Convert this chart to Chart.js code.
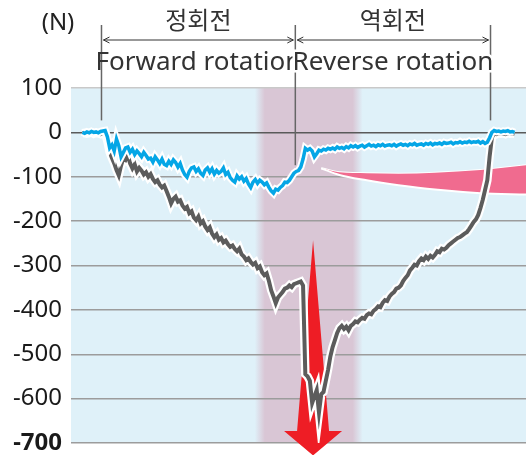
<!DOCTYPE html>
<html>
<head>
<meta charset="utf-8">
<script src="https://cdn.jsdelivr.net/npm/chart.js@4.4.1/dist/chart.umd.min.js"></script>
<style>
  html, body { margin: 0; padding: 0; background: #fff; }
  #wrap { width: 526px; height: 455px; position: relative; }
</style>
</head>
<body>
<div id="wrap"><canvas id="forceChart"></canvas></div>
<script>
// =========================
// Données
// =========================

// sample grid (s), one value every 0.5
const sampleStart = 2.5;
const sampleStep = 0.5;

// force, blue trace (N)
const blueForce = [
  0, -2, 1, -1, 2, 0, 1, -1, 2, 3,
  4, -10, -35, -28, -42, -15, -30, -55, -45, -35,
  -33, -45, -38, -50, -42, -48, -55, -45, -52, -60,
  -58, -67, -55, -62, -70, -60, -72, -75, -65, -72,
  -62, -68, -78, -70, -85, -95, -101, -88, -80, -78,
  -88, -82, -92, -97, -85, -80, -90, -82, -94, -86,
  -92, -88, -80, -95, -90, -102, -108, -112, -98, -105,
  -100, -110, -104, -116, -124, -112, -106, -115, -108, -112,
  -118, -114, -124, -132, -137, -128, -130, -124, -120, -112,
  -113, -108, -100, -92, -88, -86, -78, -60, -36, -40,
  -37, -42, -55, -48, -40, -42, -38, -40, -36, -38,
  -35, -38, -33, -36, -34, -37, -32, -35, -30, -33,
  -30, -34, -31, -29, -33, -30, -27, -31, -29, -32,
  -28, -30, -27, -31, -29, -28, -30, -27, -31, -28,
  -26, -29, -27, -30, -26, -28, -25, -29, -27, -26,
  -29, -25, -27, -24, -28, -25, -26, -24, -27, -23,
  -25, -24, -22, -26, -23, -24, -21, -24, -22, -23,
  -20, -23, -21, -22, -20, -24, -21, -25, -22, -12,
  0, 4, 2, 3, 1, 3, 2, 4, 1, 2,
  0
];

// force, grey trace (N)
const greyForce = [
  -2, -1, -3, -2, 0, -3, -1, -2, -4, -1,
  -2, -20, -45, -58, -70, -85, -97, -75, -58, -62,
  -52, -70, -81, -72, -88, -80, -86, -95, -90, -100,
  -94, -105, -112, -108, -118, -124, -120, -132, -145, -160,
  -150, -145, -156, -153, -165, -172, -168, -182, -178, -192,
  -198, -190, -205, -200, -212, -220, -214, -228, -236, -230,
  -242, -238, -248, -244, -252, -258, -255, -263, -268, -262,
  -275, -280, -288, -284, -292, -298, -294, -306, -302, -315,
  -322, -318, -335, -356, -370, -385, -372, -366, -360, -352,
  -350, -345, -349, -342, -340, -338, -336, -345, -545, -550,
  -560, -610, -595, -581, -631, -590, -585, -560, -535, -505,
  -484, -468, -452, -441, -436, -443, -438, -446, -436, -432,
  -426, -428, -422, -418, -420, -412, -408, -410, -402, -398,
  -392, -394, -384, -378, -380, -370, -364, -360, -352, -350,
  -345, -335, -328, -322, -311, -305, -298, -300, -290, -284,
  -288, -280, -285, -278, -282, -276, -268, -270, -262, -264,
  -260, -254, -250, -246, -242, -238, -236, -232, -228, -225,
  -218, -210, -202, -196, -186, -170, -152, -130, -108, -55,
  -12, -2, -4, -1, -3, -2, -4, -1, -3, -2,
  -3
];

// pink wedge (reduction)
const wedgeTimes = [55, 59, 65, 72, 80, 90, 100];
const wedgeTop = [-81, -90, -92, -93, -91, -85, -74];
const wedgeBottom = [-81, -96, -108, -119, -129, -137, -140];

// y ticks
const yTicks = [100, 0, -100, -200, -300, -400, -500, -600, -700];

// shaded zone and red arrow
const zoneStart = 41.5;
const zoneEnd = 63;
const arrowTime = 53.2;
const arrowTip = -243;
const arrowBase = -673;
const arrowPoint = -728;

// phase markers
const phaseMarks = [6.7, 49.3, 92.2];
const phaseMarkEnds = [27, -74, 27];
const phaseNames = ['정회전', '역회전'];
const phaseNamesEn = ['Forward rotation', 'Reverse rotation'];

const toPoints = (values) => values.map((v, i) => ({ x: sampleStart + i * sampleStep, y: v }));
const wedgePoints = (values) => values.map((v, i) => ({ x: wedgeTimes[i], y: v }));

// =========================
// Plugins
// =========================

const backdrop = {
  id: 'backdrop',
  beforeDraw(chart) {
    const { ctx, chartArea: a, scales: { x } } = chart;
    ctx.save();
    ctx.fillStyle = '#dff1f9';
    ctx.fillRect(a.left, a.top, a.right - a.left, a.bottom - a.top);

    const x0 = x.getPixelForValue(zoneStart);
    const x1 = x.getPixelForValue(zoneEnd);
    const g = ctx.createLinearGradient(x0 - 5, 0, x1 + 5, 0);
    const w = (x1 - x0) + 10;
    g.addColorStop(0, 'rgba(217,198,213,0)');
    g.addColorStop(10 / w, 'rgba(217,198,213,1)');
    g.addColorStop(1 - 10 / w, 'rgba(217,198,213,1)');
    g.addColorStop(1, 'rgba(217,198,213,0)');
    ctx.fillStyle = g;
    ctx.fillRect(x0 - 5, a.top, w, a.bottom - a.top);
    ctx.restore();
  }
};

const redArrow = {
  id: 'redArrow',
  beforeDatasetsDraw(chart) {
    const { ctx, scales: { x, y } } = chart;
    const cx = x.getPixelForValue(arrowTime);
    const yTip = y.getPixelForValue(arrowTip);
    const yBase = y.getPixelForValue(arrowBase);
    const yPoint = y.getPixelForValue(arrowPoint);
    ctx.save();
    ctx.fillStyle = '#ee1d25';
    ctx.beginPath();
    ctx.moveTo(cx, yTip);
    ctx.lineTo(cx + 16, yBase);
    ctx.lineTo(cx + 29, yBase);
    ctx.lineTo(cx, yPoint);
    ctx.lineTo(cx - 29, yBase);
    ctx.lineTo(cx - 16, yBase);
    ctx.closePath();
    ctx.fill();
    ctx.restore();
  }
};

const phaseLabels = {
  id: 'phaseLabels',
  afterDraw(chart) {
    const { ctx, scales: { x, y } } = chart;
    const topY = 25;
    const arrowY = 40;
    ctx.save();

    // unit
    ctx.fillStyle = '#222';
    ctx.font = '24px "Noto Sans"';
    ctx.textAlign = 'center';
    ctx.textBaseline = 'middle';
    ctx.fillText('(N)', 58, 23);

    // markers
    ctx.strokeStyle = '#666';
    ctx.lineWidth = 1.5;
    const xs = phaseMarks.map(t => x.getPixelForValue(t));
    xs.forEach((px, i) => {
      ctx.beginPath();
      ctx.moveTo(px, topY);
      ctx.lineTo(px, y.getPixelForValue(phaseMarkEnds[i]));
      ctx.stroke();
    });

    // double arrows
    ctx.strokeStyle = '#333';
    ctx.lineWidth = 1;
    for (let i = 0; i < xs.length - 1; i++) {
      const a = xs[i] + 2;
      const b = xs[i + 1] - 2;
      ctx.beginPath();
      ctx.moveTo(a, arrowY);
      ctx.lineTo(b, arrowY);
      ctx.moveTo(a + 6, arrowY - 3);
      ctx.lineTo(a, arrowY);
      ctx.lineTo(a + 6, arrowY + 3);
      ctx.moveTo(b - 6, arrowY - 3);
      ctx.lineTo(b, arrowY);
      ctx.lineTo(b - 6, arrowY + 3);
      ctx.stroke();
    }

    // names
    ctx.fillStyle = '#333';
    ctx.font = '24px "Noto Sans CJK KR"';
    ctx.textBaseline = 'middle';
    for (let i = 0; i < phaseNames.length; i++) {
      ctx.fillText(phaseNames[i], (xs[i] + xs[i + 1]) / 2, 20);
    }
    ctx.font = '26px "Noto Sans"';
    ctx.textBaseline = 'alphabetic';
    for (let i = 0; i < phaseNamesEn.length; i++) {
      const cx = (xs[i] + xs[i + 1]) / 2;
      if (i > 0) {
        ctx.strokeStyle = '#fff';
        ctx.lineWidth = 5;
        ctx.strokeText(phaseNamesEn[i], cx, 70);
      }
      ctx.fillText(phaseNamesEn[i], cx, 70);
    }
    ctx.restore();
  }
};

// =========================
// Graphique
// =========================

const ctx = document.getElementById('forceChart');

new Chart(ctx, {
  type: 'line',
  data: {
    datasets: [
      {
        label: 'blue',
        data: toPoints(blueForce),
        borderColor: '#05a6e6',
        borderWidth: 3.5,
        order: 1
      },
      {
        label: 'blue halo',
        data: toPoints(blueForce),
        borderColor: '#ffffff',
        borderWidth: 7.5,
        order: 2
      },
      {
        label: 'grey',
        data: toPoints(greyForce),
        borderColor: '#5c5c5c',
        borderWidth: 4,
        order: 3
      },
      {
        label: 'grey halo',
        data: toPoints(greyForce),
        borderColor: '#ffffff',
        borderWidth: 8.5,
        order: 4
      },
      {
        label: 'wedge bottom',
        data: wedgePoints(wedgeBottom),
        borderColor: '#ffffff',
        borderWidth: 2,
        backgroundColor: '#f06b8f',
        fill: '+1',
        cubicInterpolationMode: 'monotone',
        order: 5
      },
      {
        label: 'wedge top',
        data: wedgePoints(wedgeTop),
        borderColor: '#ffffff',
        borderWidth: 2,
        cubicInterpolationMode: 'monotone',
        order: 6
      }
    ]
  },
  options: {
    responsive: true,
    maintainAspectRatio: false,
    animation: false,
    layout: {
      padding: { top: 88, bottom: 12, left: 0, right: 0 }
    },
    elements: {
      point: { radius: 0 },
      line: { tension: 0, fill: false }
    },
    plugins: {
      legend: { display: false },
      tooltip: { enabled: false }
    },
    scales: {
      x: {
        type: 'linear',
        min: 0,
        max: 100,
        display: false
      },
      y: {
        min: -700,
        max: 100,
        afterFit(scale) {
          scale.width = 71;
          scale.paddingTop = 0;
          scale.paddingBottom = 0;
        },
        afterBuildTicks(scale) { scale.ticks = yTicks.map(v => ({ value: v })); },
        border: { display: false },
        grid: {
          drawTicks: false,
          lineWidth: 1.5,
          color: (c) => c.tick && c.tick.value === 0 ? '#5a5a5a' : (c.tick && c.tick.value === 100 ? '#c9c9c9' : '#9c9c9c')
        },
        ticks: {
          padding: 9,
          color: '#1a1a1a',
          font: (c) => ({
            family: 'Noto Sans',
            size: 24,
            lineHeight: 1,
            weight: c.tick && c.tick.value === -700 ? 'bold' : 'normal'
          })
        }
      }
    }
  },
  plugins: [backdrop, redArrow, phaseLabels]
});
</script>
</body>
</html>
